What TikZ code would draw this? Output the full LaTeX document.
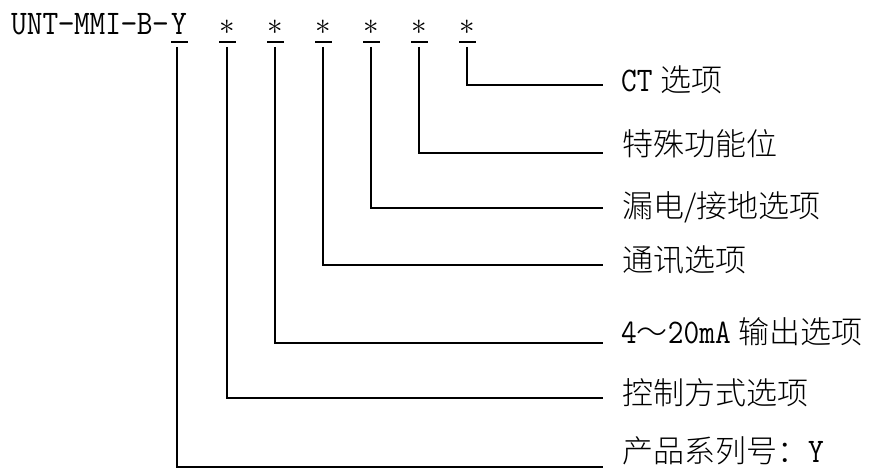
\documentclass[tikz,border=0pt]{standalone}
\usepackage{fontspec}
\usepackage{graphicx}
\IfFontExistsTF{Noto Sans CJK SC Light}
  {\newfontfamily\cjk{Noto Sans CJK SC Light}}
  {\newfontfamily\cjk{Noto Sans CJK SC}}
\newcommand{\latin}[1]{\scalebox{1}[1.13]{\fontsize{30.5}{32}\selectfont\ttfamily #1}}
\newcommand{\astr}{\makebox[16pt]{\scalebox{3.1}{$\ast$}}}
\begin{document}
\begin{tikzpicture}[x=1pt,y=-1pt,
  code/.style={inner sep=0pt, anchor=base west},
  lab/.style={inner sep=0pt, anchor=base west, font=\fontsize{31}{34}\selectfont\cjk},
  conn/.style={line width=1.7pt, black},
  uline/.style={line width=2.6pt, black}]
\useasboundingbox (0,0) rectangle (869,468);
% code line
\node[code] (pre) at (11,35) {\latin{UNT−MMI−B−}};
\node[code] (Y)  at (171,35) {\latin{Y}};
\node[code] (s1) at (219,35) {\astr};
\node[code] (s2) at (267,35) {\astr};
\node[code] (s3) at (315,35) {\astr};
\node[code] (s4) at (363,35) {\astr};
\node[code] (s5) at (411,35) {\astr};
\node[code] (s6) at (459,35) {\astr};
% labels
\node[lab] (l6) at (621,92)  {\latin{CT}\hspace{8pt}选项};
\node[lab] (l5) at (622,155) {特殊功能位};
\node[lab] (l4) at (622,217) {漏电/接地选项};
\node[lab] (l3) at (622,271) {通讯选项};
\node[lab] (l2) at (621,343) {\latin{4}～\latin{20mA}\hspace{8pt}输出选项};
\node[lab] (l1) at (622,404) {控制方式选项};
\node[lab] (lY) at (622,462) {产品系列号：\latin{Y}};
% connector ends
\coordinate (e6) at (603,85);
\coordinate (e5) at (603,153);
\coordinate (e4) at (603,208);
\coordinate (e3) at (603,265);
\coordinate (e2) at (603,343);
\coordinate (e1) at (603,398);
\coordinate (eY) at (603,467);
% underlines
\foreach \n in {Y,s1,s2,s3,s4,s5,s6}
  \draw[uline] ([yshift=-7pt]\n.base west) -- ([yshift=-7pt,xshift=1pt]\n.base east);
% connectors
\draw[conn] ([yshift=-12pt,xshift=-2pt]Y.base) |- (eY);
\draw[conn] ([yshift=-12pt]s1.base) |- (e1);
\draw[conn] ([yshift=-12pt]s2.base) |- (e2);
\draw[conn] ([yshift=-12pt]s3.base) |- (e3);
\draw[conn] ([yshift=-12pt]s4.base) |- (e4);
\draw[conn] ([yshift=-12pt]s5.base) |- (e5);
\draw[conn] ([yshift=-12pt]s6.base) |- (e6);
\end{tikzpicture}
\end{document}
